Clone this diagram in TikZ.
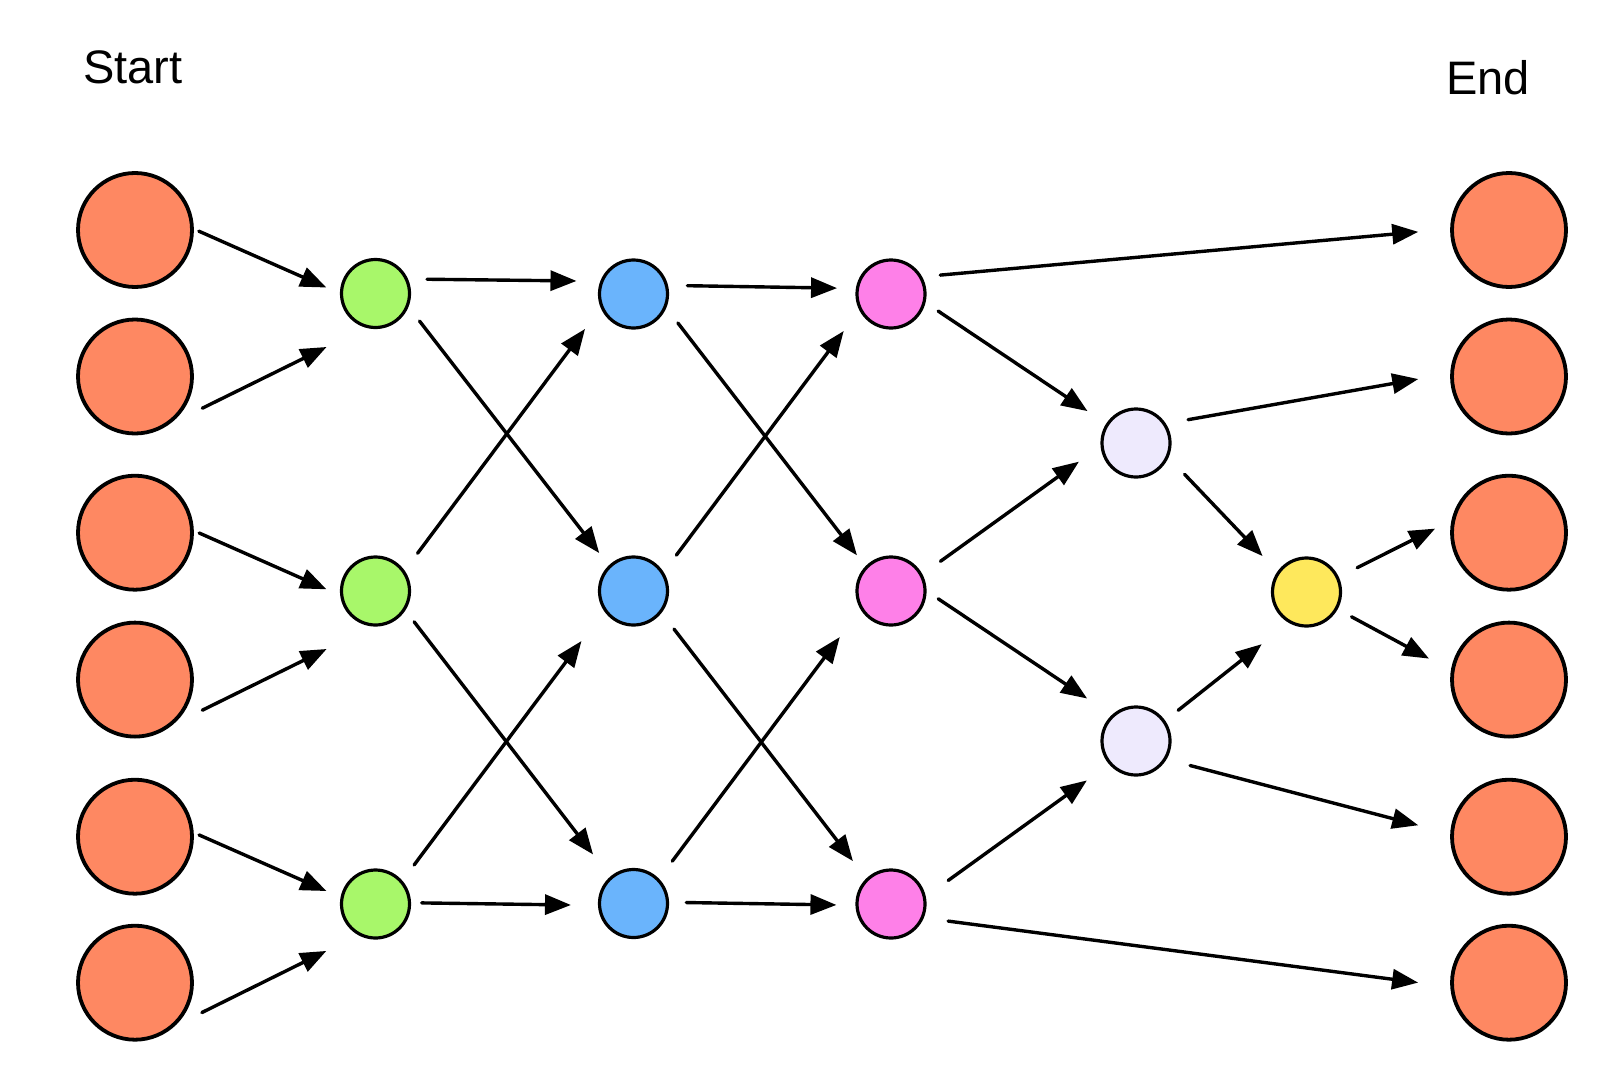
\documentclass[tikz,border=0pt]{standalone}
\usepackage{fontspec}
\setmainfont{Liberation Sans}
\usepackage{tikz}
\usetikzlibrary{arrows.meta}
\usepackage{xcolor}

\definecolor{salmon}{HTML}{FE8862}
\definecolor{lime}{HTML}{A8F76A}
\definecolor{sky}{HTML}{6AB4FC}
\definecolor{orchid}{HTML}{FE80E8}
\definecolor{lilac}{HTML}{EEEAFD}
\definecolor{gold}{HTML}{FEE85C}

\begin{document}
\begin{tikzpicture}[
    x=0.5pt, y=-0.5pt,
    big/.style={circle, draw, line width=1.9pt, minimum size=57pt, inner sep=0pt, fill=salmon},
    dot/.style={circle, draw, line width=1.6pt, minimum size=34pt, inner sep=0pt},
    title/.style={anchor=base west, inner sep=0pt, font=\fontsize{23.5pt}{28pt}\selectfont},
    arr/.style={-{Triangle[length=13pt, width=10pt]}, line width=1.7pt, line cap=round}
]
\useasboundingbox (0,0) rectangle (1600,1065);

% titles
\node[title] (start) at (83,84) {Start};
\node[title] (end) at (1446,95) {End};

% start column
\node[big] (in1) at (135,230) {};
\node[big] (in2) at (135,376.5) {};
\node[big] (in3) at (135,532.7) {};
\node[big] (in4) at (135,679.6) {};
\node[big] (in5) at (135,836.7) {};
\node[big] (in6) at (135,982.7) {};

% end column
\node[big] (out1) at (1509,230) {};
\node[big] (out2) at (1509,376.5) {};
\node[big] (out3) at (1509,532.7) {};
\node[big] (out4) at (1509,679.6) {};
\node[big] (out5) at (1509,836.7) {};
\node[big] (out6) at (1509,982.7) {};

% inner layers
\node[dot, fill=lime] (a1) at (375.5,293.5) {};
\node[dot, fill=lime] (a2) at (375.5,591) {};
\node[dot, fill=lime] (a3) at (375.5,904) {};
\node[dot, fill=sky] (b1) at (633.5,294) {};
\node[dot, fill=sky] (b2) at (633.5,591) {};
\node[dot, fill=sky] (b3) at (633.5,903.5) {};
\node[dot, fill=orchid] (c1) at (891,294) {};
\node[dot, fill=orchid] (c2) at (891,591) {};
\node[dot, fill=orchid] (c3) at (891,904) {};
\node[dot, fill=lilac] (d1) at (1136,443) {};
\node[dot, fill=lilac] (d2) at (1136,741) {};
\node[dot, fill=gold] (m) at (1306.5,592) {};

% start -> first layer
\draw[arr, shorten <=2.7pt, shorten >=7.4pt] (in1.1) -- (a1.180);
\draw[arr, shorten <=18.7pt, shorten >=21.8pt] (in2.-55) -- (a1.254);
\draw[arr, shorten <=2.9pt, shorten >=7.5pt] (in3.2) -- (a2.187);
\draw[arr, shorten <=16.4pt, shorten >=25.5pt] (in4.-50) -- (a2.265);
\draw[arr, shorten <=2.9pt, shorten >=7.7pt] (in5.4) -- (a3.169);
\draw[arr, shorten <=14.9pt, shorten >=17.8pt] (in6.-47) -- (a3.241);

% first -> second layer
\draw[arr, shorten <=9.5pt, shorten >=11.9pt] (a1.24) -- (b1.159);
\draw[arr, shorten <=9pt, shorten >=7.8pt] (a1.-22) -- (b2.134);
\draw[arr, shorten <=10.8pt, shorten >=13.1pt] (a2.35) -- (b1.203);
\draw[arr, shorten <=7.2pt, shorten >=14pt] (a2.-33) -- (b3.131);
\draw[arr, shorten <=9.8pt, shorten >=18.8pt] (a3.41) -- (b2.214);
\draw[arr, shorten <=5.3pt, shorten >=13.5pt] (a3.2) -- (b3.183);

% second -> third layer
\draw[arr, shorten <=9.7pt, shorten >=9.4pt] (b1.14) -- (c1.171);
\draw[arr, shorten <=9.5pt, shorten >=6.9pt] (b1.-23) -- (c2.136);
\draw[arr, shorten <=10.6pt, shorten >=13pt] (b2.32) -- (c1.207);
\draw[arr, shorten <=10.2pt, shorten >=10.9pt] (b2.-38) -- (c3.134);
\draw[arr, shorten <=11pt, shorten >=17.3pt] (b3.44) -- (c2.211);
\draw[arr, shorten <=8.6pt, shorten >=9.5pt] (b3.2) -- (c3.182);

% third layer onwards
\draw[arr, shorten <=9.1pt, shorten >=16pt] (c1.29) -- (out1.179);
\draw[arr, shorten <=7.6pt, shorten >=11.2pt] (c1.-14) -- (d1.147);
\draw[arr, shorten <=11.1pt, shorten >=13.3pt] (c2.28) -- (d1.185);
\draw[arr, shorten <=7pt, shorten >=14.8pt] (c2.0) -- (d2.133);
\draw[arr, shorten <=13.8pt, shorten >=13.7pt] (c3.12) -- (d2.221);
\draw[arr, shorten <=12.3pt, shorten >=16.2pt] (c3.-23) -- (out6.184);

% lilac pair
\draw[arr, shorten <=11.3pt, shorten >=16.2pt] (d1.33) -- (out2.177);
\draw[arr, shorten <=11.6pt, shorten >=10.7pt] (d1.-24) -- (m.145);
\draw[arr, shorten <=8.3pt, shorten >=17.2pt] (d2.35) -- (m.240);
\draw[arr, shorten <=12.2pt, shorten >=16.5pt] (d2.-31) -- (out5.177);

% merge node
\draw[arr, shorten <=10.3pt, shorten >=9.1pt] (m.25) -- (out3.168);
\draw[arr, shorten <=7.9pt, shorten >=12.4pt] (m.-29) -- (out4.171);
\end{tikzpicture}
\end{document}
